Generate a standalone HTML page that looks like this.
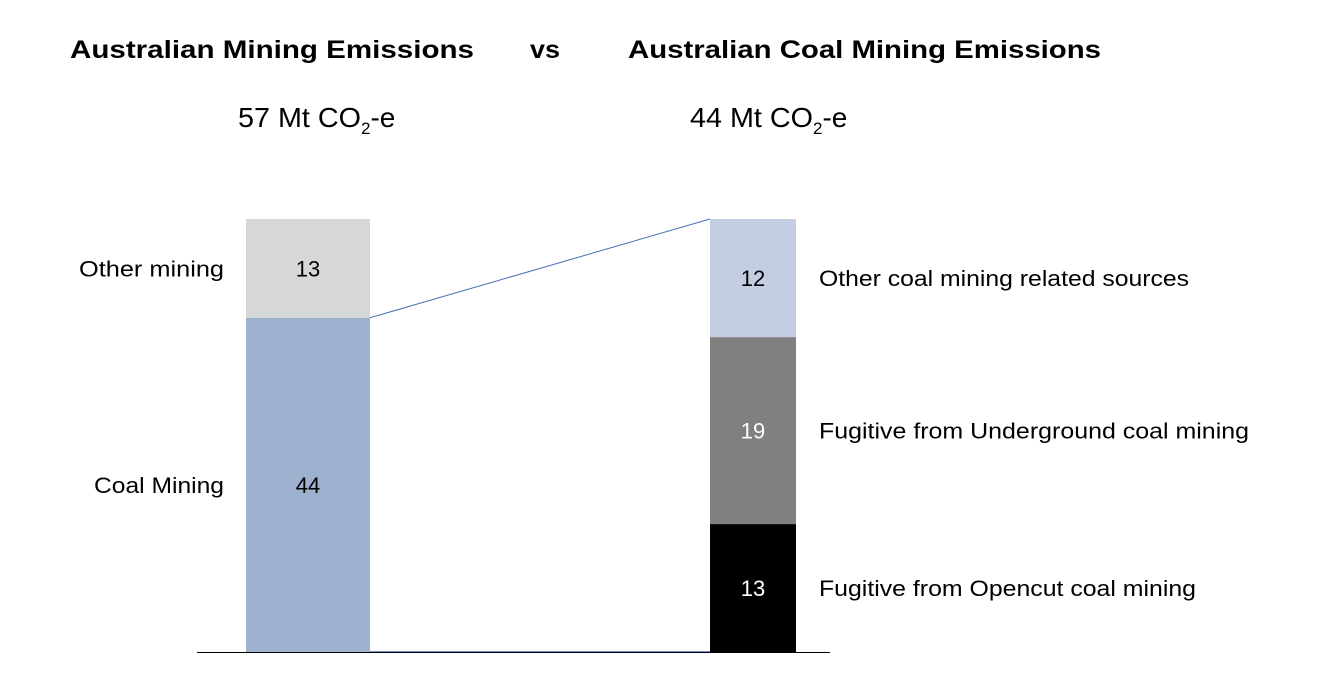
<!DOCTYPE html>
<html><head><meta charset="utf-8"><style>
body{margin:0;background:#fff;width:1319px;height:671px;overflow:hidden;font-family:"Liberation Sans",sans-serif}
</style></head><body>
<svg width="1319" height="671" xmlns="http://www.w3.org/2000/svg" font-family="Liberation Sans, sans-serif">
<text x="70" y="58" font-size="25" font-weight="bold" fill="#000" textLength="404" lengthAdjust="spacingAndGlyphs">Australian Mining Emissions</text>
<text x="530" y="58" font-size="25" font-weight="bold" fill="#000" textLength="30" lengthAdjust="spacingAndGlyphs">vs</text>
<text x="628" y="58" font-size="25" font-weight="bold" fill="#000" textLength="473" lengthAdjust="spacingAndGlyphs">Australian Coal Mining Emissions</text>
<text x="238" y="127" font-size="28" fill="#000"><tspan textLength="123" lengthAdjust="spacingAndGlyphs">57 Mt CO</tspan><tspan font-size="17" dy="7">2</tspan><tspan dy="-7">-e</tspan></text>
<text x="690" y="127" font-size="28" fill="#000"><tspan textLength="123" lengthAdjust="spacingAndGlyphs">44 Mt CO</tspan><tspan font-size="17" dy="7">2</tspan><tspan dy="-7">-e</tspan></text>
<g id="bars"></g>
<line x1="197" y1="652.5" x2="830" y2="652.5" stroke="#000" stroke-width="1"/>
</svg>
<script>
const leftCats = ["Coal Mining","Other mining"];
const leftVals = [44,13];
const rightCats = ["Fugitive from Opencut coal mining","Fugitive from Underground coal mining","Other coal mining related sources"];
const rightVals = [13,19,12];
const leftColors = ["#9eb1cf","#d6d7d9"];
const rightColors = ["#000000","#808080","#c3cee2"];
const rightTextColors = ["#fff","#fff","#000"];
const leftLabelWidths = [130,145];
const rightLabelWidths = [377,430,370];
const NS="http://www.w3.org/2000/svg";
const g=document.getElementById('bars');
const base=652, top0=219;
function mk(t,a){const e=document.createElementNS(NS,t);for(const k in a)e.setAttribute(k,a[k]);g.appendChild(e);return e;}
function stack(vals,cats,colors,tcolors,x0,w,labelSide,lw){
  const tot=vals.reduce((a,b)=>a+b,0);
  const sc=v=>v*(base-top0)/tot;
  let y=base;const bounds=[];
  vals.forEach((v,i)=>{
    const h=sc(v);y-=h;bounds.push(y);
    const r=mk('rect',{x:x0,y:y,width:w,height:h,fill:colors[i]});
    
    
    const t=mk('text',{x:x0+w/2,y:y+h/2+8,'text-anchor':'middle','font-size':'22',fill:tcolors[i]});
    t.textContent=v;
    
    
    const l=mk('text',labelSide<0?{x:x0-22-lw[i],y:y+h/2+8,'font-size':'22',fill:'#000',textLength:lw[i],lengthAdjust:'spacingAndGlyphs'}:{x:x0+w+23,y:y+h/2+8,'font-size':'22',fill:'#000',textLength:lw[i],lengthAdjust:'spacingAndGlyphs'});
    l.textContent=cats[i];
    
    
  });
  return bounds;
}
const lb=stack(leftVals,leftCats,leftColors,["#000","#000"],246,124,-1,leftLabelWidths);
stack(rightVals,rightCats,rightColors,rightTextColors,710,86,1,rightLabelWidths);
const c1=mk('line',{x1:370,y1:lb[0],x2:710,y2:top0,stroke:'#4a6fb5','stroke-width':1});


const c2=mk('line',{x1:370,y1:base,x2:710,y2:base,stroke:'#4a6fb5','stroke-width':1.5});


</script>
</body></html>
